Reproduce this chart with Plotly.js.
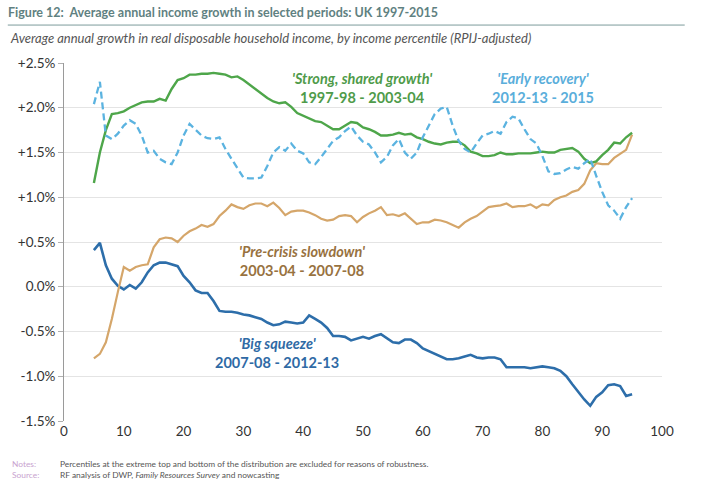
<!DOCTYPE html>
<html>
<head>
<meta charset="utf-8">
<script src="https://cdn.plot.ly/plotly-3.0.1.min.js"></script>
<style>html,body{margin:0;padding:0;background:#fff;}#chart{width:708px;height:494px;}</style>
</head>
<body>
<div id="chart"></div>
<script>
const percentiles = [5,6,7,8,9,10,11,12,13,14,15,16,17,18,19,20,21,22,23,24,25,26,27,28,29,30,31,32,33,34,35,36,37,38,39,40,41,42,43,44,45,46,47,48,49,50,51,52,53,54,55,56,57,58,59,60,61,62,63,64,65,66,67,68,69,70,71,72,73,74,75,76,77,78,79,80,81,82,83,84,85,86,87,88,89,90,91,92,93,94,95];

const strongShared = [1.16,1.50,1.75,1.93,1.94,1.96,2.00,2.03,2.06,2.07,2.07,2.10,2.08,2.21,2.31,2.33,2.37,2.37,2.38,2.38,2.39,2.38,2.37,2.34,2.35,2.31,2.26,2.21,2.15,2.11,2.07,2.05,2.06,2.01,1.94,1.91,1.88,1.85,1.84,1.80,1.76,1.76,1.80,1.84,1.83,1.78,1.76,1.73,1.69,1.69,1.70,1.72,1.70,1.71,1.67,1.65,1.62,1.60,1.59,1.61,1.62,1.62,1.58,1.51,1.49,1.46,1.46,1.47,1.50,1.48,1.48,1.49,1.49,1.49,1.50,1.51,1.50,1.50,1.53,1.54,1.55,1.51,1.43,1.38,1.40,1.47,1.53,1.61,1.60,1.67,1.72];

const earlyRecovery = [2.04,2.29,1.69,1.65,1.71,1.80,1.86,1.82,1.69,1.50,1.52,1.43,1.39,1.37,1.50,1.69,1.82,1.75,1.69,1.66,1.65,1.67,1.54,1.43,1.32,1.22,1.21,1.21,1.22,1.35,1.50,1.56,1.52,1.60,1.52,1.49,1.39,1.37,1.45,1.54,1.63,1.67,1.74,1.79,1.69,1.62,1.59,1.50,1.39,1.45,1.58,1.65,1.50,1.43,1.50,1.67,1.80,1.93,1.99,2.01,1.80,1.63,1.54,1.50,1.60,1.69,1.71,1.74,1.71,1.84,1.90,1.88,1.76,1.65,1.60,1.46,1.29,1.26,1.27,1.31,1.34,1.32,1.38,1.43,1.24,1.06,0.91,0.85,0.76,0.89,0.99];

const preCrisis = [-0.80,-0.75,-0.62,-0.36,-0.06,0.22,0.18,0.22,0.24,0.25,0.44,0.53,0.55,0.54,0.50,0.57,0.62,0.65,0.69,0.67,0.70,0.79,0.85,0.92,0.89,0.87,0.91,0.93,0.93,0.90,0.94,0.88,0.80,0.84,0.85,0.85,0.83,0.80,0.76,0.74,0.75,0.79,0.80,0.79,0.72,0.78,0.82,0.85,0.89,0.80,0.81,0.79,0.82,0.76,0.70,0.72,0.72,0.75,0.74,0.72,0.69,0.66,0.72,0.76,0.79,0.84,0.89,0.90,0.91,0.93,0.89,0.90,0.90,0.92,0.88,0.92,0.91,0.97,1.00,1.02,1.06,1.08,1.15,1.30,1.38,1.37,1.37,1.44,1.49,1.53,1.70];

const bigSqueeze = [0.41,0.49,0.24,0.09,0.01,-0.03,0.02,-0.02,0.05,0.16,0.24,0.27,0.27,0.25,0.23,0.12,0.05,-0.04,-0.07,-0.07,-0.16,-0.27,-0.28,-0.28,-0.29,-0.31,-0.32,-0.34,-0.36,-0.40,-0.43,-0.42,-0.39,-0.40,-0.41,-0.40,-0.32,-0.36,-0.40,-0.46,-0.55,-0.55,-0.56,-0.60,-0.58,-0.56,-0.58,-0.55,-0.53,-0.58,-0.62,-0.63,-0.59,-0.59,-0.63,-0.69,-0.72,-0.75,-0.78,-0.81,-0.81,-0.80,-0.78,-0.76,-0.79,-0.80,-0.79,-0.79,-0.81,-0.90,-0.90,-0.90,-0.90,-0.91,-0.90,-0.89,-0.90,-0.91,-0.94,-1.00,-1.09,-1.18,-1.26,-1.33,-1.23,-1.18,-1.10,-1.09,-1.11,-1.22,-1.20];

const yTickVals = [-1.5,-1.0,-0.5,0,0.5,1.0,1.5,2.0,2.5];
const yTickText = ['-1.5%','-1.0%','-0.5%','0.0%','+0.5%','+1.0%','+1.5%','+2.0%','+2.5%'];
const xTickVals = [0,10,20,30,40,50,60,70,80,90,100];

const seriesLabels = [
  {name:"'Strong, shared growth'", period:'1997-98 - 2003-04', x:49.8, y:2.225, color:'#4f9b4a'},
  {name:"'Early recovery'", period:'2012-13 - 2015', x:80.1, y:2.225, color:'#5aaedb'},
  {name:"'Pre-crisis slowdown'", period:'2003-04 - 2007-08', x:39.8, y:0.29, color:'#98723f'},
  {name:"'Big squeeze'", period:'2007-08 - 2012-13', x:35.6, y:-0.74, color:'#2f6aa5'}
];

const FONT = 'Lato, "Open Sans", sans-serif';

const traces = [
  {x:percentiles, y:bigSqueeze, mode:'lines', line:{color:'#2d6eaa', width:2.6}, hoverinfo:'skip'},
  {x:percentiles, y:preCrisis, mode:'lines', line:{color:'#d5a66a', width:2.2}, hoverinfo:'skip'},
  {x:percentiles, y:strongShared, mode:'lines', line:{color:'#4ea64a', width:2.4}, hoverinfo:'skip'},
  {x:percentiles, y:earlyRecovery, mode:'lines', line:{color:'#5bb3e0', width:2.3, dash:'7px,4px'}, hoverinfo:'skip'}
];

const annotations = seriesLabels.map(s => ({
  xref:'x', yref:'y', x:s.x, y:s.y, xanchor:'center', yanchor:'middle', showarrow:false,
  text:'<b><i>'+s.name+'</i><br>'+s.period+'</b>',
  font:{family:FONT, size:14.5, color:s.color}, align:'center'
}));

annotations.push(
  {xref:'paper', yref:'paper', x:-0.0936, y:1.0698, xanchor:'left', yanchor:'middle', showarrow:false,
   text:'<i>Average annual growth in real disposable household income, by income percentile (RPIJ-adjusted)</i>',
   font:{family:FONT, size:13, color:'#555555'}},
  {xref:'paper', yref:'paper', x:-0.0903, y:-0.120, xanchor:'left', yanchor:'middle', showarrow:false,
   text:'Notes:', font:{family:FONT, size:8.4, color:'#c9a3cf'}},
  {xref:'paper', yref:'paper', x:-0.0903, y:-0.151, xanchor:'left', yanchor:'middle', showarrow:false,
   text:'Source:', font:{family:FONT, size:8.4, color:'#c9a3cf'}},
  {xref:'paper', yref:'paper', x:-0.0100, y:-0.120, xanchor:'left', yanchor:'middle', showarrow:false,
   text:'Percentiles at the extreme top and bottom of the distribution are excluded for reasons of robustness.',
   font:{family:FONT, size:8.4, color:'#555555'}},
  {xref:'paper', yref:'paper', x:-0.0100, y:-0.151, xanchor:'left', yanchor:'middle', showarrow:false,
   text:'RF analysis of DWP, <i>Family Resources Survey</i> and nowcasting',
   font:{family:FONT, size:8.4, color:'#555555'}}
);

const layout = {
  width:708, height:494,
  margin:{l:64, r:46, t:63, b:73},
  paper_bgcolor:'#ffffff', plot_bgcolor:'#ffffff',
  showlegend:false,
  font:{family:FONT, size:13, color:'#333333'},
  title:{text:'<b>Figure 12:  Average annual income growth in selected periods: UK 1997-2015</b>',
         xref:'container', yref:'container', x:8/708, xanchor:'left', y:1-13/494, yanchor:'middle',
         font:{family:FONT, size:12.5, color:'#5f8181'}},
  xaxis:{range:[0,100], tickvals:xTickVals, showgrid:false, zeroline:false, showline:false,
         ticks:'', tickfont:{family:FONT, size:13.5, color:'#333333'}, fixedrange:true},
  xaxis2:{range:[0,100], overlaying:'x', anchor:'free', position:0.375, side:'bottom',
          tickvals:xTickVals, showticklabels:false, showgrid:false, zeroline:false,
          showline:true, linecolor:'#9a9a9a', linewidth:1, ticks:'outside', ticklen:5, tickcolor:'#9a9a9a'},
  yaxis:{range:[-1.5,2.5], tickvals:yTickVals, ticktext:yTickText, showgrid:true, gridcolor:'#e4e4e4', gridwidth:1,
         zeroline:false, showline:true, linecolor:'#9a9a9a', linewidth:1, ticks:'outside', ticklen:5, tickcolor:'#b0b0b0',
         tickfont:{family:FONT, size:13.5, color:'#333333'}, fixedrange:true},
  annotations:annotations,
  shapes:[
    {type:'line', xref:'paper', yref:'paper', x0:-0.094, x1:1.038, y0:1.106, y1:1.106,
     line:{color:'#7d9c9c', width:1}}
  ]
};

Plotly.newPlot('chart', traces, layout, {displayModeBar:false, staticPlot:true});
</script>
</body>
</html>
